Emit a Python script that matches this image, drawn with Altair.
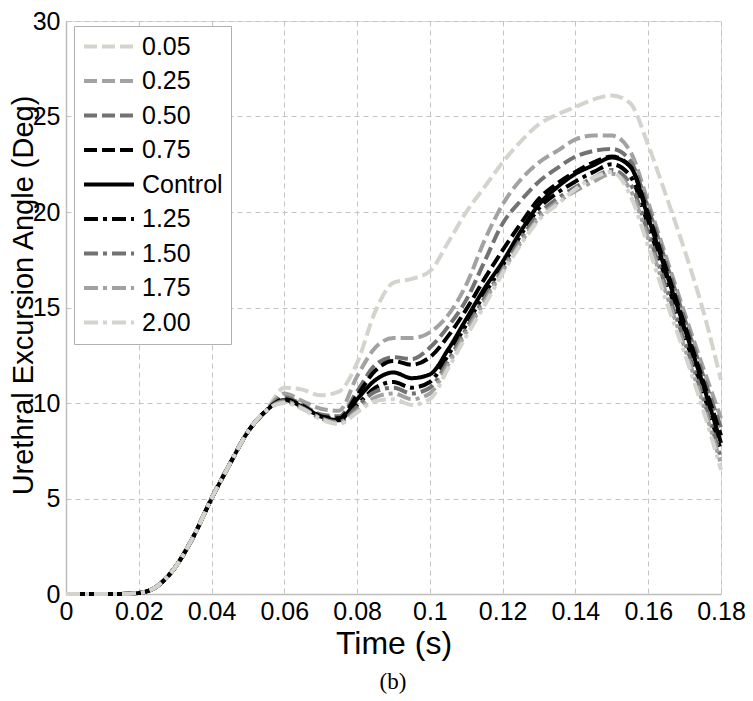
import altair as alt
import pandas as pd

# ---------------- data ----------------
times = [0, 0.005, 0.01, 0.015, 0.02, 0.025, 0.03, 0.035, 0.04, 0.045, 0.05, 0.055,
         0.06, 0.065, 0.07, 0.075, 0.08, 0.085, 0.09, 0.095, 0.1, 0.105, 0.11, 0.115,
         0.12, 0.125, 0.13, 0.135, 0.14, 0.145, 0.15, 0.155, 0.16, 0.165, 0.17, 0.175, 0.18]

# shared initial rise (all curves overlap up to ~0.055 s)
early = [0, 0, 0, 0, 0.05, 0.4, 1.4, 3.0, 5.0, 6.8, 8.5, 9.6]

s_005 = [10.8, 10.7, 10.4, 10.6, 12.1, 14.8, 16.3, 16.5, 16.9, 18.4, 20.0, 21.3, 22.6,
         23.7, 24.6, 25.1, 25.5, 25.9, 26.1, 25.7, 23.5, 20.8, 18.0, 14.9, 11.2]
s_025 = [10.5, 10.1, 9.7, 9.6, 11.4, 12.9, 13.4, 13.4, 13.7, 14.6, 16.2, 18.5, 20.4,
         21.7, 22.6, 23.2, 23.8, 24.0, 24.0, 23.2, 20.5, 17.6, 14.7, 11.9, 9.2]
s_050 = [10.3, 9.9, 9.4, 9.3, 10.6, 12.0, 12.4, 12.3, 12.9, 14.0, 15.4, 17.4, 19.4,
         20.6, 21.6, 22.3, 22.9, 23.2, 23.3, 22.7, 20.2, 17.3, 14.4, 11.5, 8.7]
s_075 = [10.2, 9.85, 9.3, 9.2, 10.4, 11.7, 12.2, 12.0, 12.4, 13.5, 14.9, 16.5, 18.0,
         19.4, 20.7, 21.5, 22.1, 22.6, 22.9, 22.4, 19.9, 17.0, 14.1, 11.2, 8.3]
s_ctrl = [10.15, 9.8, 9.3, 9.1, 10.2, 11.2, 11.6, 11.3, 11.5, 12.8, 14.4, 16.0, 17.4,
          19.0, 20.4, 21.3, 22.0, 22.45, 22.85, 22.4, 19.7, 16.8, 13.9, 11.0, 7.9]
s_125 = [10.1, 9.8, 9.3, 9.05, 9.9, 10.8, 11.1, 10.8, 11.1, 12.5, 14.1, 15.7, 17.2,
         18.8, 20.2, 21.0, 21.6, 22.1, 22.5, 21.9, 19.3, 16.4, 13.5, 10.6, 7.5]
s_150 = [10.1, 9.75, 9.2, 9.0, 9.8, 10.6, 10.8, 10.5, 10.8, 12.2, 13.9, 15.5, 17.0,
         18.6, 19.9, 20.7, 21.3, 21.8, 22.2, 21.5, 18.9, 16.0, 13.2, 10.3, 7.1]
s_175 = [10.05, 9.7, 9.2, 8.95, 9.6, 10.3, 10.5, 10.2, 10.5, 12.0, 13.7, 15.3, 16.9,
         18.4, 19.7, 20.5, 21.1, 21.6, 22.0, 21.2, 18.6, 15.7, 12.9, 10.0, 6.8]
s_200 = [10.0, 9.7, 9.15, 8.9, 9.5, 10.1, 10.2, 9.9, 10.2, 11.8, 13.5, 15.1, 16.8,
         18.3, 19.6, 20.4, 21.2, 21.8, 22.1, 20.9, 18.2, 15.3, 12.6, 9.7, 6.5]

series_names = ["0.05", "0.25", "0.50", "0.75", "Control", "1.25", "1.50", "1.75", "2.00"]
series_tails = [s_005, s_025, s_050, s_075, s_ctrl, s_125, s_150, s_175, s_200]

x_ticks = [0, 0.02, 0.04, 0.06, 0.08, 0.1, 0.12, 0.14, 0.16, 0.18]
y_ticks = [0, 5, 10, 15, 20, 25, 30]

# ---------------- styles ----------------
colors = ["#d4d3cd", "#a2a2a2", "#727272", "#000000", "#000000",
          "#000000", "#727272", "#a2a2a2", "#d4d3cd"]
DASH = [13, 5]
DASHDOT = [14, 5, 4, 5]
dashes = [DASH, DASH, DASH, DASH, [1, 0], DASHDOT, DASHDOT, DASHDOT, DASHDOT]

rows = []
for k, (name, tail) in enumerate(zip(series_names, series_tails)):
    vals = early + tail
    for t, v in zip(times, vals):
        rows.append({"t": t, "v": v, "series": name, "ord": k})
df = pd.DataFrame(rows)

FONT = "Liberation Sans"
PLOT_H = 573

legend_opts = dict(title=None, orient="none", legendX=8, legendY=5,
                   symbolType="stroke", symbolSize=2500,
                   symbolStrokeWidth=4, labelFontSize=25,
                   labelFont=FONT, labelColor="#000",
                   labelOffset=6, clipHeight=25, rowPadding=8.5, padding=8,
                   strokeColor="#b0b0b0", fillColor="#ffffff",
                   labelLimit=300)

lines = alt.Chart(df).mark_line(strokeWidth=4, interpolate="monotone", strokeCap="butt").encode(
    x=alt.X("t:Q",
            scale=alt.Scale(domain=[0, 0.18], nice=False, zero=False),
            axis=alt.Axis(values=x_ticks, title="Time (s)", format="~g",
                          labelFontSize=25, labelFont=FONT, labelPadding=5,
                          labelColor="#000", titleFont=FONT, titleFontSize=32,
                          titleFontWeight="normal", titleColor="#000",
                          titleY=49, titleBaseline="middle",
                          ticks=False, domainColor="#bdbdbd", domainWidth=1.5,
                          grid=True, gridDash=[5, 4], gridColor="#c4c4c4",
                          gridWidth=1, labelFlush=False)),
    y=alt.Y("v:Q",
            scale=alt.Scale(domain=[0, 30], nice=False),
            axis=alt.Axis(values=y_ticks, title="Urethral Excursion Angle (Deg)",
                          labelFontSize=25, labelFont=FONT, labelPadding=6,
                          labelColor="#000", titleFont=FONT, titleFontSize=29,
                          titleFontWeight="normal", titleColor="#000",
                          titleX=-43, titleY=274, titleAngle=270,
                          titleAlign="center", titleBaseline="middle",
                          ticks=False, domainColor="#bdbdbd", domainWidth=1.5,
                          grid=True, gridDash=[5, 4], gridColor="#c4c4c4",
                          gridWidth=1, labelFlush=False)),
    color=alt.Color("series:N",
                    scale=alt.Scale(domain=series_names, range=colors),
                    legend=alt.Legend(**legend_opts)),
    strokeDash=alt.StrokeDash("series:N",
                              scale=alt.Scale(domain=series_names, range=dashes),
                              legend=alt.Legend(**legend_opts)),
    order=alt.Order("ord:Q"),
)

caption = alt.Chart(pd.DataFrame({"c": ["(b)"]})).mark_text(
    font="Liberation Serif", fontSize=23, color="#000", baseline="middle", align="center"
).encode(text="c:N", x=alt.value(327), y=alt.value(PLOT_H + 88))

chart = alt.layer(lines, caption).properties(
    width=655, height=PLOT_H,
    autosize=alt.AutoSizeParams(type="none"),
    padding={"left": 58, "top": 13, "right": 24, "bottom": 100},
).configure_view(stroke=None).configure(background="white")

chart.save("out.html", embed_options={"renderer": "svg", "actions": False})
